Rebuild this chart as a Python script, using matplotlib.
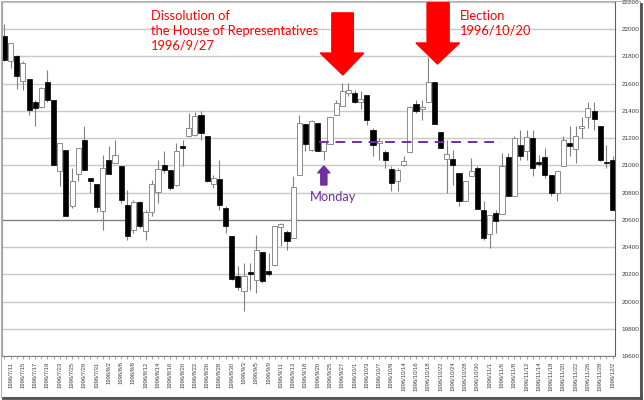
import matplotlib
matplotlib.use("Agg")
import matplotlib.pyplot as plt
from matplotlib.patches import Polygon, Rectangle

# trading days (1996)
dates = ["7/10", "7/11", "7/12", "7/15", "7/16", "7/17", "7/18", "7/19", "7/22", "7/23",
         "7/24", "7/25", "7/26", "7/29", "7/30", "7/31", "8/1", "8/2", "8/5", "8/6",
         "8/7", "8/8", "8/9", "8/12", "8/13", "8/14", "8/15", "8/16", "8/19", "8/20",
         "8/21", "8/22", "8/23", "8/26", "8/27", "8/28", "8/29", "8/30", "9/2", "9/3",
         "9/4", "9/5", "9/6", "9/9", "9/10", "9/11", "9/12", "9/13", "9/17", "9/18",
         "9/19", "9/20", "9/24", "9/25", "9/26", "9/27", "9/30", "10/1", "10/2", "10/3",
         "10/4", "10/7", "10/8", "10/9", "10/11", "10/14", "10/15", "10/16", "10/17", "10/18",
         "10/21", "10/22", "10/23", "10/24", "10/25", "10/28", "10/29", "10/30", "10/31", "11/1",
         "11/5", "11/6", "11/7", "11/8", "11/11", "11/12", "11/13", "11/14", "11/15", "11/18",
         "11/19", "11/20", "11/21", "11/22", "11/25", "11/26", "11/27", "11/28", "11/29", "12/2"]

opens = [21953, 21763, 21804, 21621, 21636, 21464, 21428, 21611, 21477, 20956,
         21115, 20704, 20939, 21188, 20907, 20863, 20662, 21041, 21017, 20992,
         20711, 20528, 20731, 20516, 20655, 20804, 21005, 20968, 20853, 21139,
         21213, 21225, 21372, 21213, 20865, 20902, 20687, 20479, 20186, 20080,
         20215, 20161, 20364, 20227, 20266, 20545, 20511, 20467, 20931, 21305,
         21115, 21310, 21103, 21159, 21372, 21433, 21530, 21530, 21469, 21518,
         21261, 21164, 21095, 20975, 20883, 21005, 21095, 21452, 21413, 21462,
         21609, 21244, 21046, 21049, 20944, 20741, 20919, 20980, 20675, 20496,
         20650, 20643, 21061, 20772, 21151, 21103, 21200, 21022, 21059, 20931,
         20797, 20997, 21164, 21120, 21274, 21359, 21396, 21286, 21022, 21037]
highs = [22039, 21897, 21812, 21763, 21636, 21482, 21574, 21697, 21477, 21164,
         21115, 20980, 21127, 21286, 20907, 20863, 21078, 21139, 21188, 20992,
         20821, 20748, 20736, 20675, 20895, 21041, 21103, 20968, 21164, 21188,
         21384, 21389, 21396, 21213, 20931, 21041, 20699, 20479, 20259, 20283,
         20283, 20491, 20364, 20357, 20557, 20577, 20528, 20919, 21372, 21305,
         21330, 21310, 21188, 21359, 21482, 21604, 21604, 21555, 21543, 21518,
         21274, 21200, 21115, 20992, 20980, 21066, 21433, 21482, 21482, 21799,
         21609, 21244, 21188, 21115, 20944, 20883, 21054, 20992, 20736, 20633,
         20675, 21090, 21090, 21213, 21261, 21261, 21261, 21078, 21127, 20931,
         20956, 21213, 21291, 21286, 21359, 21462, 21462, 21286, 21151, 21066]
lows = [21763, 21714, 21560, 21555, 21372, 21286, 21420, 21469, 21005, 20846,
        20626, 20687, 20883, 20963, 20797, 20655, 20528, 20939, 21017, 20724,
        20455, 20503, 20540, 20455, 20626, 20724, 20944, 20821, 20846, 20992,
        21208, 21217, 21188, 20875, 20834, 20675, 20503, 20161, 20088, 19929,
        20088, 20063, 20137, 20186, 20259, 20406, 20381, 20467, 20931, 21103,
        21107, 21103, 21041, 21159, 21372, 21433, 21506, 21457, 21413, 21298,
        21066, 21041, 20980, 20809, 20809, 20992, 21095, 21384, 21335, 21462,
        21305, 21127, 20797, 20858, 20699, 20736, 20919, 20682, 20455, 20394,
        20503, 20643, 20772, 20772, 21041, 21041, 20919, 20992, 20907, 20772,
        20736, 20997, 21066, 21017, 21200, 21274, 21261, 21029, 20980, 20675]
closes = [21775, 21897, 21653, 21755, 21408, 21420, 21567, 21477, 21005, 21164,
          20631, 20883, 21127, 20968, 20883, 20694, 20980, 20939, 21078, 20748,
          20479, 20728, 20552, 20657, 20863, 20975, 20968, 20834, 21107, 21127,
          21274, 21364, 21237, 20883, 20907, 20711, 20552, 20168, 20107, 20190,
          20203, 20381, 20154, 20203, 20557, 20570, 20442, 20841, 21310, 21159,
          21323, 21103, 21176, 21352, 21457, 21548, 21555, 21462, 21486, 21335,
          21151, 21176, 21041, 20870, 20963, 21029, 21428, 21396, 21428, 21616,
          21305, 21127, 21085, 21000, 20741, 20883, 20956, 20682, 20467, 20633,
          20594, 20992, 20772, 21200, 21066, 21208, 20980, 21012, 20931, 20797,
          20956, 21188, 21144, 21213, 21291, 21420, 21342, 21037, 21017, 20675]

yticks = list(range(19600, 22201, 200))
support_level = 21169

fig = plt.figure(figsize=(6.44, 4.0), dpi=100)
ax = fig.add_axes([2 / 644, 44 / 400, 613 / 644, 354 / 400])

x = list(range(len(dates)))

# grid
for v in yticks:
    ax.axhline(v, color="#808080" if v == 20600 else "#c8c8c8", lw=1.0, zorder=0)

# candles
ax.vlines(x, lows, highs, color="#808080", lw=0.8, zorder=1)
for i in x:
    o, c = opens[i], closes[i]
    h = max(abs(c - o), 6)
    if c >= o:
        ax.bar(i, h, bottom=min(o, c), width=0.82, color="white", edgecolor="#8c8c8c", lw=0.7, zorder=2)
    else:
        ax.bar(i, h, bottom=min(o, c), width=0.82, color="black", edgecolor="black", lw=0.5, zorder=2)

ax.set_xlim(-0.4, 99.4)
ax.set_ylim(19600, 22200)

# axes styling
for s in ["top"]:
    ax.spines[s].set_visible(False)
ax.spines["left"].set_color("#a0a0a0")
ax.spines["right"].set_color("#606060")
ax.spines["bottom"].set_color("#808080")
ax.yaxis.tick_right()
ax.set_yticks(yticks)
ax.set_yticklabels([str(v) for v in yticks], fontsize=4.6, family="Liberation Sans", color="#404040")
ax.tick_params(axis="y", length=0, pad=5)
ax.set_xticks(x)
ax.set_xticklabels(["1996/" + d if i % 2 == 1 else "" for i, d in enumerate(dates)],
                   rotation=90, fontsize=4.2, family="Liberation Sans", color="#404040")
ax.tick_params(axis="x", length=2, width=0.5, color="#808080", pad=2)

# dashed support line
ax.plot([51.2, 80.9], [support_level, support_level], color="#7030a0", lw=1.4,
        dashes=(5, 3.5), zorder=3)

# big red arrows
ax.add_patch(Polygon([(53.3, 22120), (56.8, 22120), (56.8, 21825), (58.5, 21825),
                      (55.1, 21664), (51.4, 21825), (53.3, 21825)],
                     closed=True, color="#ff0000", zorder=4, clip_on=False))
ax.add_patch(Polygon([(68.8, 22195), (72.4, 22195), (72.4, 21899), (74.1, 21899),
                      (70.5, 21745), (67.0, 21899), (68.8, 21899)],
                     closed=True, color="#ff0000", zorder=4, clip_on=False))
# purple arrow
ax.add_patch(Polygon([(51.5, 20856), (52.5, 20856), (52.5, 20945), (53.0, 20945),
                      (52.0, 20996), (51.0, 20945), (51.5, 20945)],
                     closed=True, color="#7030a0", zorder=4))

ax.text(23.9, 22140, "Dissolution of\nthe House of Representatives\n1996/9/27", color="#ff0000",
        fontsize=9.3, family="Lato", va="top", ha="left", linespacing=1.25)
ax.text(74.2, 22140, "Election\n1996/10/20", color="#ff0000",
        fontsize=9.3, family="Lato", va="top", ha="left", linespacing=1.25)
ax.text(49.7, 20815, "Monday", color="#7030a0", fontsize=9.3, family="Lato", va="top", ha="left")

# outer frame with shadow
fig.patches.append(Rectangle((0.5 / 644, 3 / 400), 639 / 644, 396.5 / 400, transform=fig.transFigure,
                             fill=False, edgecolor="#b0b0b0", lw=0.8))
fig.lines.append(plt.Line2D([3 / 644, 641 / 644], [2 / 400, 2 / 400], transform=fig.transFigure,
                            color="#505050", lw=2))
fig.lines.append(plt.Line2D([641 / 644, 641 / 644], [2 / 400, 396 / 400], transform=fig.transFigure,
                            color="#505050", lw=2))

fig.savefig("out.png", dpi=100)
